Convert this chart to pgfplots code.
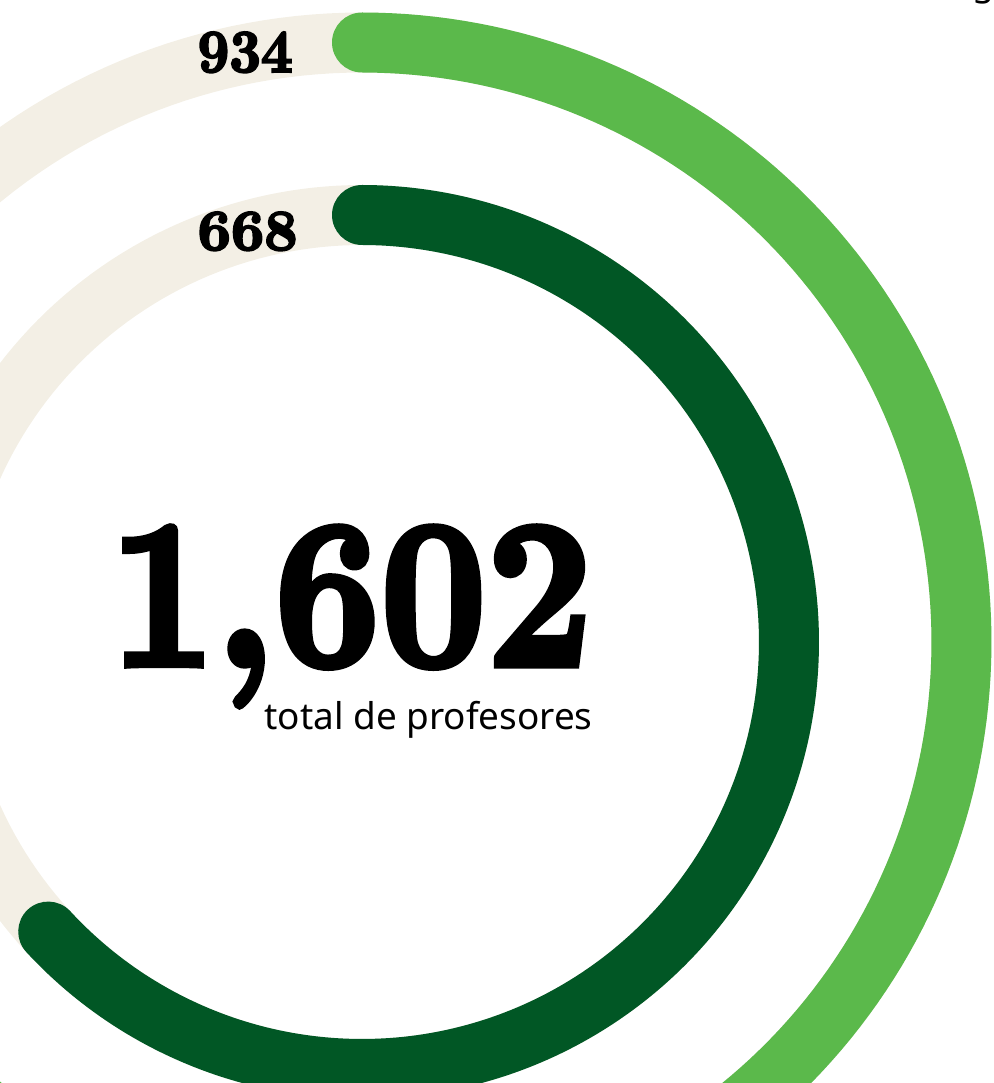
\documentclass[border=0pt]{standalone}
\usepackage{fontspec}
\usepackage{pgfplots}
\pgfplotsset{compat=1.18}
\setmainfont{Noto Sans}
\newfontfamily\didone[FakeBold=3.5]{lmroman10-bold.otf}
\definecolor{lgreen}{HTML}{5BB94B}
\definecolor{dgreen}{HTML}{015725}
\definecolor{track}{HTML}{F3EFE5}
% scale: 360 degrees correspond to 1058 teachers
\newcommand{\degper}{0.340265}
\begin{document}
\begin{tikzpicture}
\begin{axis}[
  x=0.5pt, y=0.5pt,
  xmin=-362, xmax=631, ymin=-441, ymax=642,
  enlargelimits=false,
  hide axis,
  clip=true,
]
% background tracks
\addplot[track, line width=30pt, line cap=round, line join=round, domain=0:360, samples=240]
  ({599.5*sin(x)}, {599.5*cos(x)});
\addplot[track, line width=30pt, line cap=round, line join=round, domain=0:360, samples=240]
  ({427*sin(x)}, {427*cos(x)});
% value arcs: outer 934, inner 668
\addplot[lgreen, line width=30pt, line cap=round, line join=round, domain=0:934, samples=240]
  ({599.5*sin(x*\degper)}, {599.5*cos(x*\degper)});
\addplot[dgreen, line width=30pt, line cap=round, line join=round, domain=0:668, samples=240]
  ({427*sin(x*\degper)}, {427*cos(x*\degper)});
% labels
\node[anchor=base east, inner sep=0pt] at (axis cs:-69,570)
  {\resizebox{47.5pt}{20pt}{\didone 934}};
\node[anchor=base east, inner sep=0pt] at (axis cs:-64,392)
  {\resizebox{50pt}{19pt}{\didone 668}};
\node[anchor=base east, inner sep=0pt] at (axis cs:231,-23)
  {\resizebox{241.5pt}{69pt}{\didone 1,602}};
\node[anchor=base east, inner sep=0pt] at (axis cs:231,-88)
  {\resizebox{164pt}{!}{total de profesores}};
\end{axis}
\node[anchor=base west, inner sep=0pt, font=\fontsize{18}{20}\selectfont] at ([xshift=486pt,yshift=2pt]current axis.north west) {g};
\pgfresetboundingbox
\path[use as bounding box] (current axis.south west) rectangle (current axis.north east);
\end{tikzpicture}
\end{document}
